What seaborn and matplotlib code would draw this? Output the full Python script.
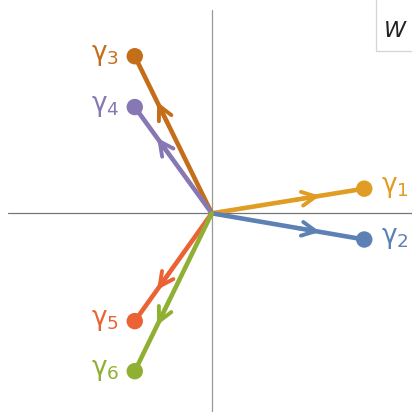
import matplotlib
matplotlib.use("Agg")
import matplotlib.pyplot as plt
import numpy as np
import pandas as pd
import seaborn as sns

# endpoints of the vectors (origin is 0)
names = ["γ1", "γ2", "γ3", "γ4", "γ5", "γ6"]
x_end = [1.98, 1.98, -1.0, -1.0, -1.0, -1.0]
y_end = [0.32, -0.34, 2.04, 1.38, -1.40, -2.05]
colors = ["#E19C24", "#5E81B5", "#C56E1A", "#8778B3", "#EB6235", "#8FB032"]

sns.set_style("white")
plt.rcParams["mathtext.fontset"] = "dejavusans"

fig = plt.figure(figsize=(4.12, 4.12), dpi=100)
ax = fig.add_axes([0, 0, 1, 1])
ax.set_xlim(-2.75, 2.60)
ax.set_ylim(-2.58, 2.77)
for s in ax.spines.values():
    s.set_visible(False)
ax.set_xticks([])
ax.set_yticks([])

# axes through origin
ax.plot([-2.65, 2.6], [0, 0], color="#777777", lw=0.9, zorder=1)
ax.plot([0, 0], [-2.58, 2.64], color="#999999", lw=0.9, zorder=1)

rows = []
for n, xe, ye in zip(names, x_end, y_end):
    rows.append({"name": n, "x": 0.0, "y": 0.0})
    rows.append({"name": n, "x": xe, "y": ye})
segs = pd.DataFrame(rows)
pal = dict(zip(names, colors))

sns.lineplot(data=segs, x="x", y="y", hue="name", units="name", estimator=None,
             sort=False, palette=pal, lw=3.3, legend=False, ax=ax, zorder=3)

ends = pd.DataFrame({"name": names, "x": x_end, "y": y_end})
sns.scatterplot(data=ends, x="x", y="y", hue="name", palette=pal, s=140,
                edgecolor="none", legend=False, ax=ax, zorder=4)

# open arrowheads at ~70% along each vector
for xe, ye, c in zip(x_end, y_end, colors):
    ax.annotate("", xy=(0.71 * xe, 0.71 * ye), xytext=(0.55 * xe, 0.55 * ye),
                arrowprops=dict(arrowstyle="->,head_length=1.0,head_width=0.5",
                                color=c, lw=2.8, shrinkA=0, shrinkB=0),
                zorder=3)

# labels
for n, xe, ye, c in zip(names, x_end, y_end, colors):
    lab = r"$\mathrm{\gamma}_{\mathrm{%s}}$" % n[1:]
    if xe > 0:
        ax.text(xe + 0.22, ye + 0.02, lab, color=c, fontsize=19, ha="left", va="center")
    else:
        ax.text(xe - 0.2, ye + 0.02, lab, color=c, fontsize=19, ha="right", va="center")

# W box in top-right corner
ax.text(0.958, 0.925, "W", transform=ax.transAxes, fontsize=16, style="italic",
        ha="center", va="center", color="#222222")
ax.plot([0.913, 0.913, 1.0], [1.0, 0.876, 0.876], transform=ax.transAxes,
        color="#d4d4d4", lw=0.9, clip_on=False)

fig.savefig("out.png", dpi=100)
